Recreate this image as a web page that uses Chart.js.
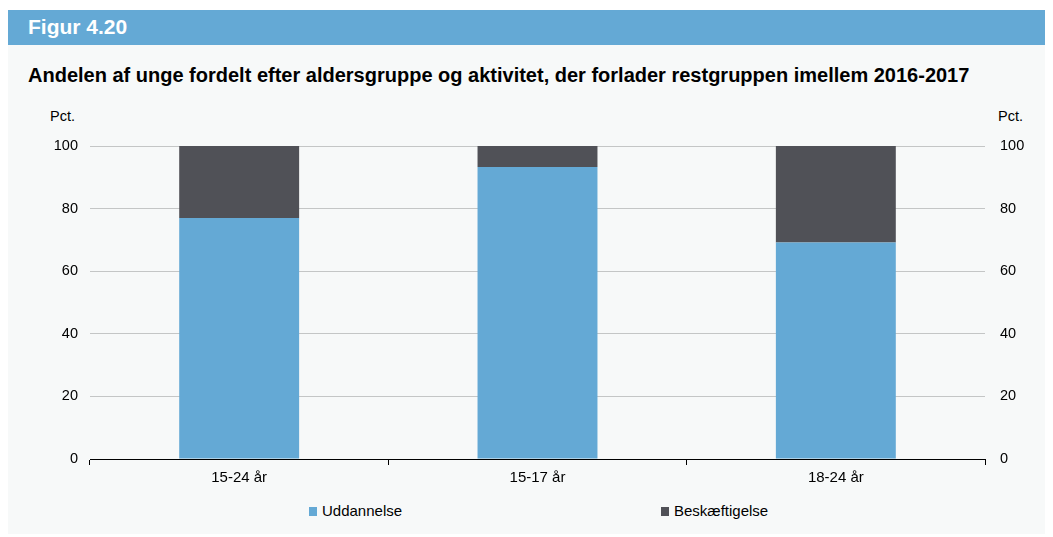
<!DOCTYPE html>
<html>
<head>
<meta charset="utf-8">
<script src="https://cdn.jsdelivr.net/npm/chart.js@4"></script>
<style>
  body { margin: 0; background: #fff; font-family: "Liberation Sans", Arial, sans-serif; }
  #wrap { position: relative; width: 1053px; height: 537px; }
  #head { position: absolute; left: 8px; top: 10px; width: 1037px; height: 35px; background: #64a9d5; }
  #head span { position: absolute; left: 20px; top: 5px; color: #fff; font-weight: bold; font-size: 21px; }
  #panel { position: absolute; left: 8px; top: 45px; width: 1037px; height: 489px; background: #f7f9f9; }
  #title { position: absolute; left: 28px; top: 64px; font-weight: bold; font-size: 20px; color: #000; }
  .unit { position: absolute; top: 108px; font-size: 14.5px; color: #000; }
  #legend { position: absolute; top: 502px; font-size: 15px; color: #000; }
  .item { position: absolute; white-space: nowrap; }
  .sw { display: inline-block; width: 8px; height: 9px; margin-right: 5px; vertical-align: 0px; }
  canvas { position: absolute; left: 0; top: 0; }
</style>
</head>
<body>
<div id="wrap">
  <div id="head"><span>Figur 4.20</span></div>
  <div id="panel"></div>
  <div id="title">Andelen af unge fordelt efter aldersgruppe og aktivitet, der forlader restgruppen imellem 2016-2017</div>
  <div class="unit" style="left:50px">Pct.</div>
  <div class="unit" style="left:998px">Pct.</div>
  <div id="legend">
    <div class="item" style="left:309px"><span class="sw" style="background:#64a9d5"></span>Uddannelse</div>
    <div class="item" style="left:661px"><span class="sw" style="background:#505157"></span>Beskæftigelse</div>
  </div>
  <canvas id="chart" width="1053" height="537"></canvas>
</div>
<script>
// DATA
const categories = ["15-24 år", "15-17 år", "18-24 år"];
const uddannelse = [77.0, 93.3, 69.2];
const beskaeftigelse = [23.0, 6.7, 30.8];
const yTicks = [0, 20, 40, 60, 80, 100];

const blue = "#64a9d5";
const dark = "#505157";
const tickFont = { family: "Liberation Sans", size: 14.5 };

const ctx = document.getElementById("chart").getContext("2d");

new Chart(ctx, {
    type: "bar",
    data: {
        labels: categories,
        datasets: [
            { label: "Uddannelse", data: uddannelse, backgroundColor: blue, yAxisID: "y" },
            { label: "Beskæftigelse", data: beskaeftigelse, backgroundColor: dark, yAxisID: "y" }
        ]
    },
    options: {
        responsive: false,
        animation: false,
        devicePixelRatio: 1,
        layout: { padding: { top: 146 } },
        datasets: { bar: { categoryPercentage: 1, barPercentage: 0.402 } },
        plugins: { legend: { display: false }, tooltip: { enabled: false } },
        scales: {
            x: {
                stacked: true,
                grid: { display: true, offset: true, drawOnChartArea: false, drawTicks: true, tickLength: 6, color: "#000" },
                border: { display: true, color: "#000", width: 1 },
                ticks: { color: "#000", font: { family: "Liberation Sans", size: 15 }, padding: 4 },
                afterFit: s => { s.height = 78; }
            },
            y: {
                stacked: true,
                position: "left",
                min: 0,
                max: 100,
                afterBuildTicks: s => { s.ticks = yTicks.map(v => ({ value: v })); },
                grid: { color: "#c4c6c6", drawTicks: false },
                border: { display: false },
                ticks: { color: "#000", font: tickFont, padding: 12 },
                afterFit: s => { s.width = 90; }
            },
            y2: {
                position: "right",
                min: 0,
                max: 100,
                afterBuildTicks: s => { s.ticks = yTicks.map(v => ({ value: v })); },
                grid: { display: false, drawTicks: false },
                border: { display: false },
                ticks: { color: "#000", font: tickFont, padding: 15 },
                afterFit: s => { s.width = 68; }
            }
        }
    }
});
</script>
</body>
</html>
